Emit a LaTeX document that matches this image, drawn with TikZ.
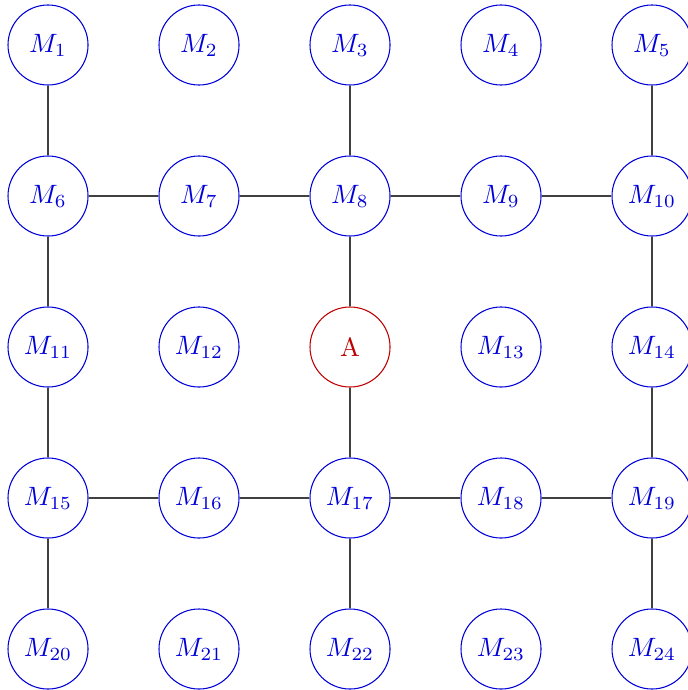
\documentclass[tikz,border=0pt]{standalone}
\usetikzlibrary{positioning}

\tikzset{
  grid-node/.style={circle, draw=blue!85!black, text=blue!85!black, minimum size=1.06cm, inner sep=0pt},
  grid-attack/.style={circle, draw=red!75!black, text=red!75!black, minimum size=1.06cm, inner sep=0pt},
  grid-link/.style={draw=black!75, line width=0.4pt},
}

\begin{document}
\begin{tikzpicture}

    \useasboundingbox (-0.636, 0.596) rectangle (8.464, -8.543);

    % Nodes: Row 1
    \node[grid-node] (m1) at (0, 0) {$M_{1}$};
    \node[grid-node] (m2) at (2, 0) {$M_{2}$};
    \node[grid-node] (m3) at (4, 0) {$M_{3}$};
    \node[grid-node] (m4) at (6, 0) {$M_{4}$};
    \node[grid-node] (m5) at (8, 0) {$M_{5}$};

    % Nodes: Row 2
    \node[grid-node] (m6)  at (0, -2) {$M_{6}$};
    \node[grid-node] (m7)  at (2, -2) {$M_{7}$};
    \node[grid-node] (m8)  at (4, -2) {$M_{8}$};
    \node[grid-node] (m9)  at (6, -2) {$M_{9}$};
    \node[grid-node] (m10) at (8, -2) {$M_{10}$};

    % Nodes: Row 3 (attacker in the middle)
    \node[grid-node]   (m11) at (0, -4) {$M_{11}$};
    \node[grid-node]   (m12) at (2, -4) {$M_{12}$};
    \node[grid-attack] (a)   at (4, -4) {A};
    \node[grid-node]   (m13) at (6, -4) {$M_{13}$};
    \node[grid-node]   (m14) at (8, -4) {$M_{14}$};

    % Nodes: Row 4
    \node[grid-node] (m15) at (0, -6) {$M_{15}$};
    \node[grid-node] (m16) at (2, -6) {$M_{16}$};
    \node[grid-node] (m17) at (4, -6) {$M_{17}$};
    \node[grid-node] (m18) at (6, -6) {$M_{18}$};
    \node[grid-node] (m19) at (8, -6) {$M_{19}$};

    % Nodes: Row 5
    \node[grid-node] (m20) at (0, -8) {$M_{20}$};
    \node[grid-node] (m21) at (2, -8) {$M_{21}$};
    \node[grid-node] (m22) at (4, -8) {$M_{22}$};
    \node[grid-node] (m23) at (6, -8) {$M_{23}$};
    \node[grid-node] (m24) at (8, -8) {$M_{24}$};

    % Edges: Horizontal
    \draw[grid-link] (m6)  -- (m7);
    \draw[grid-link] (m7)  -- (m8);
    \draw[grid-link] (m8)  -- (m9);
    \draw[grid-link] (m9)  -- (m10);
    \draw[grid-link] (m15) -- (m16);
    \draw[grid-link] (m16) -- (m17);
    \draw[grid-link] (m17) -- (m18);
    \draw[grid-link] (m18) -- (m19);

    % Edges: Vertical
    \draw[grid-link] (m1)  -- (m6);
    \draw[grid-link] (m3)  -- (m8);
    \draw[grid-link] (m5)  -- (m10);
    \draw[grid-link] (m6)  -- (m11);
    \draw[grid-link] (m8)  -- (a);
    \draw[grid-link] (m10) -- (m14);
    \draw[grid-link] (m11) -- (m15);
    \draw[grid-link] (a)   -- (m17);
    \draw[grid-link] (m14) -- (m19);
    \draw[grid-link] (m15) -- (m20);
    \draw[grid-link] (m17) -- (m22);
    \draw[grid-link] (m19) -- (m24);

\end{tikzpicture}
\end{document}
